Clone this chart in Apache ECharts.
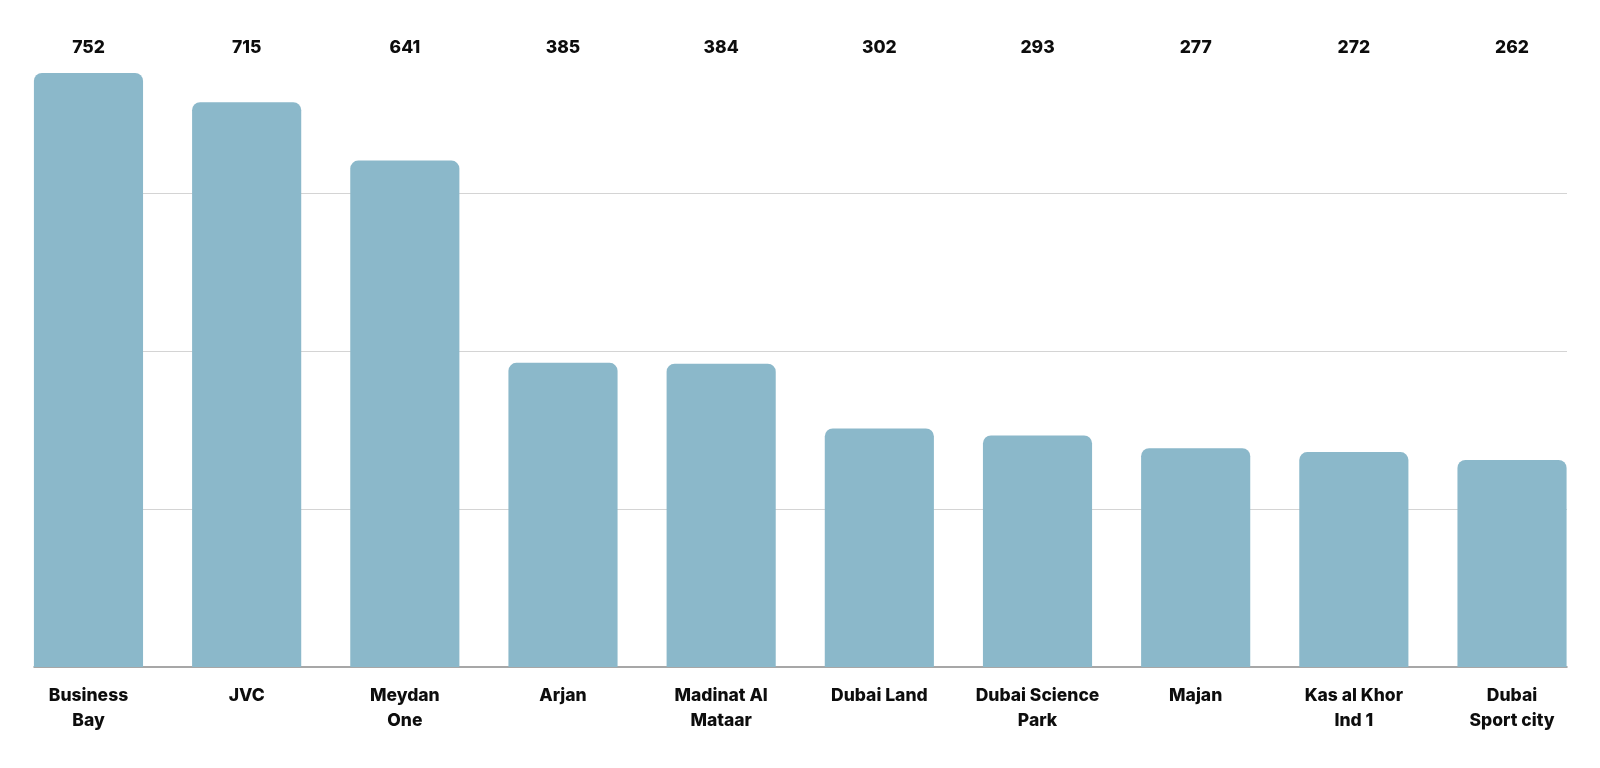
<!DOCTYPE html>
<html>
<head>
<meta charset="utf-8">
<script src="https://cdn.jsdelivr.net/npm/echarts@6/dist/echarts.min.js"></script>
<style>
  html, body { margin: 0; padding: 0; background: #fff; }
  #chart { width: 1600px; height: 768px; }
</style>
</head>
<body>
<div id="chart"></div>
<script>
const categories = ['Business\nBay', 'JVC', 'Meydan\nOne', 'Arjan', 'Madinat Al\nMataar',
    'Dubai Land', 'Dubai Science\nPark', 'Majan', 'Kas al Khor\nInd 1', 'Dubai\nSport city'];
const values = [752, 715, 641, 385, 384, 302, 293, 277, 272, 262];
const yMax = 800;
const yStep = 200;

const FONT = 'Inter, "Noto Sans", sans-serif';

const chart = echarts.init(document.getElementById('chart'));

chart.setOption({
    backgroundColor: '#ffffff',
    animation: false,
    grid: [
        // bars + labels
        { left: 9.4, right: 8.9, top: 35, bottom: 101 },
        // gridlines and baseline
        { left: 34, right: 33, top: 35, bottom: 101 }
    ],
    xAxis: [
        {
            type: 'category', gridIndex: 0, data: categories,
            axisLine: { show: false }, axisTick: { show: false },
            axisLabel: {
                color: '#0d0d0d', fontFamily: FONT, fontWeight: 800, fontSize: 17.5,
                lineHeight: 25, margin: 16, interval: 0
            }
        },
        {
            type: 'category', gridIndex: 0, position: 'top', data: values.map(String),
            axisLine: { show: false }, axisTick: { show: false },
            axisLabel: {
                color: '#0d0d0d', fontFamily: FONT, fontWeight: 800, fontSize: 17.5,
                margin: -22, interval: 0
            }
        },
        {
            type: 'value', gridIndex: 1, min: 0, max: 1,
            axisLine: { show: true, lineStyle: { color: '#8a8a8a', width: 1.5 } },
            axisTick: { show: false }, axisLabel: { show: false }, splitLine: { show: false }
        }
    ],
    yAxis: [
        {
            type: 'value', gridIndex: 0, min: 0, max: yMax, interval: yStep,
            show: false, splitLine: { show: false }
        },
        {
            type: 'value', gridIndex: 1, min: 0, max: yMax, interval: yStep,
            axisLine: { show: false }, axisTick: { show: false }, axisLabel: { show: false },
            splitLine: {
                show: true, showMinLine: false, showMaxLine: false,
                lineStyle: { color: '#d4d4d4', width: 1.2 }
            }
        }
    ],
    series: [
        {
            type: 'bar', xAxisIndex: 0, yAxisIndex: 0,
            data: values,
            barWidth: '69%',
            itemStyle: { color: '#8bb8ca', borderRadius: [8, 8, 0, 0] },
            z: 3
        }
    ]
});
</script>
</body>
</html>
